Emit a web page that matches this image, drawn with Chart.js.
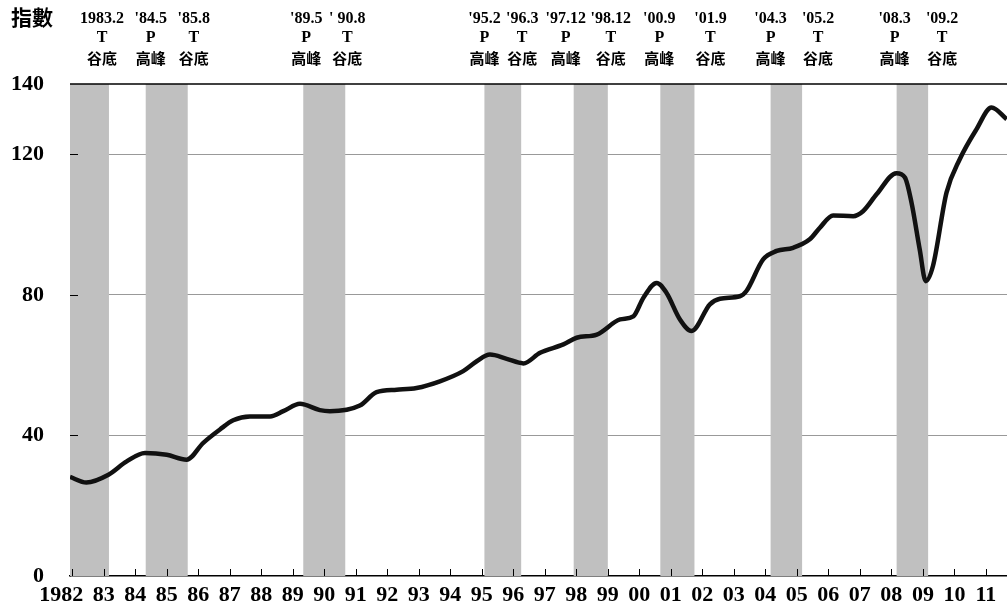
<!DOCTYPE html>
<html>
<head>
<meta charset="utf-8">
<script src="https://cdn.jsdelivr.net/npm/chart.js@4.4.1/dist/chart.umd.min.js"></script>
<style>
    body { margin: 0; background: #fff; }
    #wrap { width: 1007px; height: 616px; position: relative; }
</style>
</head>
<body>
<div id="wrap"><canvas id="plot-01"></canvas></div>
<script>
// composite index (decimal year, index value)
const years = [1981.93, 1982.45, 1983.15, 1983.73, 1984.31, 1985.0, 1985.63, 1986.16, 1986.69, 1987.11,
    1987.64, 1988.28, 1988.70, 1989.23, 1989.86, 1990.18, 1991.13, 1991.66, 1992.30, 1992.93,
    1993.67, 1994.41, 1994.84, 1995.26, 1995.79, 1996.32, 1996.85, 1997.59, 1998.01, 1998.65,
    1999.39, 1999.81, 2000.13, 2000.55, 2000.86, 2001.29, 2001.66, 2002.24, 2002.56, 2003.19,
    2003.40, 2003.93, 2004.36, 2004.88, 2005.41, 2005.73, 2006.15, 2006.79, 2007.10, 2007.53,
    2008.16, 2008.43, 2008.64, 2008.90, 2009.09, 2009.32, 2009.75, 2010.17, 2010.70, 2011.18, 2011.66];
const indexValues = [28.2, 26.6, 28.8, 32.6, 35.0, 34.5, 33.1, 37.9, 41.7, 44.3,
    45.4, 45.4, 46.9, 49.0, 47.2, 46.9, 48.5, 52.3, 53.0, 53.5,
    55.4, 58.3, 61.1, 63.0, 61.8, 60.5, 63.5, 65.9, 67.8, 68.7,
    73.0, 73.9, 79.2, 83.4, 80.6, 73.0, 69.7, 77.3, 78.9, 79.6,
    81.1, 90.1, 92.5, 93.4, 95.8, 99.1, 102.6, 102.4, 103.8, 108.6,
    114.6, 113.4, 106.2, 92.9, 83.9, 88.2, 109.1, 118.6, 127.1, 133.3, 130.0];

// contraction periods: peak (year.month) -> trough (year.month)
const peaks   = ['1980.1', '1984.5', '1989.5', '1995.2', '1997.12', '2000.9', '2004.3', '2008.3'];
const troughs = ['1983.2', '1985.8', '1990.8', '1996.3', '1998.12', '2001.9', '2005.2', '2009.2'];

// annotations along the top
const labelDates = ["1983.2", "'84.5", "'85.8", "'89.5", "' 90.8", "'95.2", "'96.3", "'97.12",
    "'98.12", "'00.9", "'01.9", "'04.3", "'05.2", "'08.3", "'09.2"];
const labelTypes = ['T', 'P', 'T', 'P', 'T', 'P', 'T', 'P', 'T', 'P', 'T', 'P', 'T', 'P', 'T'];
const typeNames = { P: '高峰', T: '谷底' };

const yTicks = [0, 40, 80, 120, 140];
const xYears = [];
for (let y = 1982; y <= 2011; y++) xYears.push(y);

function startOf(s) {
    const [y, m] = s.split('.').map(Number);
    return y + (m - 1) / 12;
}
function endOf(s) {
    const [y, m] = s.split('.').map(Number);
    return y + m / 12;
}

// small horizontal nudges (px) so labels sit like the original
const labelNudge = [-7, 5, 6, 3, 2, 0, 1, -8, 3, -1, 16, 0, 16, -2, 14];

const serif = '"Liberation Serif", "Times New Roman", serif';
const cjk = '"Noto Sans CJK TC", "Noto Sans CJK SC", sans-serif';

const shading = {
    id: 'shading',
    beforeDatasetsDraw(chart) {
        const { ctx, chartArea: a, scales: { x, y } } = chart;
        ctx.save();
        ctx.fillStyle = '#c0c0c0';
        for (let i = 0; i < peaks.length; i++) {
            const x0 = Math.max(a.left, x.getPixelForValue(startOf(peaks[i])));
            const x1 = Math.min(a.right, x.getPixelForValue(endOf(troughs[i])));
            if (x1 > x0) ctx.fillRect(x0, a.top, x1 - x0, a.bottom - a.top);
        }
        // inner tick marks
        ctx.strokeStyle = '#000';
        ctx.lineWidth = 1;
        ctx.beginPath();
        xYears.forEach(v => {
            const px = Math.round(x.getPixelForValue(v)) + 0.5;
            ctx.moveTo(px, a.bottom);
            ctx.lineTo(px, a.bottom - 7);
        });
        [40, 80, 120].forEach(v => {
            const py = Math.round(y.getPixelForValue(v)) + 0.5;
            ctx.moveTo(a.left, py);
            ctx.lineTo(a.left + 8, py);
        });
        ctx.stroke();
        // top border
        ctx.lineWidth = 1.5;
        ctx.beginPath();
        ctx.moveTo(a.left, a.top);
        ctx.lineTo(a.right, a.top);
        ctx.stroke();
        ctx.restore();
    },
    afterDraw(chart) {
        const { ctx, scales: { x } } = chart;
        const bounds = [];
        for (let i = 0; i < peaks.length; i++) {
            bounds.push(startOf(peaks[i]));
            bounds.push(endOf(troughs[i]));
        }
        bounds.shift(); // first peak is off the chart
        ctx.save();
        ctx.fillStyle = '#000';
        ctx.textAlign = 'center';
        ctx.textBaseline = 'middle';
        labelDates.forEach((d, i) => {
            const cx = x.getPixelForValue(bounds[i]) + labelNudge[i];
            ctx.font = 'bold 16px ' + serif;
            ctx.fillText(d, cx, 19);
            ctx.fillText(labelTypes[i], cx, 38);
            ctx.font = 'bold 15px ' + cjk;
            ctx.fillText(typeNames[labelTypes[i]], cx, 58);
        });
        ctx.textAlign = 'left';
        ctx.font = 'bold 21px ' + cjk;
        ctx.fillText('指數', 11, 17);
        ctx.restore();
    }
};

const config = {
    type: 'line',
    data: {
        datasets: [{
            label: '指數',
            data: years.map((v, i) => ({ x: v, y: indexValues[i] })),
            borderColor: '#111',
            borderWidth: 4.5,
            pointRadius: 0,
            cubicInterpolationMode: 'monotone',
            fill: false
        }]
    },
    options: {
        responsive: true,
        maintainAspectRatio: false,
        animation: false,
        layout: { padding: { top: 84, right: 0, left: 0, bottom: 0 } },
        plugins: {
            legend: { display: false },
            tooltip: { enabled: false }
        },
        scales: {
            x: {
                type: 'linear',
                min: 1981.93,
                max: 2011.67,
                afterBuildTicks: (s) => { s.ticks = xYears.map(v => ({ value: v })); },
                afterFit: (s) => { s.height = 40; },
                grid: { display: false, drawTicks: false },
                border: { color: '#000', width: 1.5 },
                ticks: {
                    autoSkip: false,
                    maxRotation: 0,
                    padding: 6,
                    color: '#000',
                    font: { family: serif, size: 22, weight: 'bold' },
                    // first label sits left of its tick in the original
                    callback: (v) => v === 1982 ? '1982\u2007\u2007' : String(v % 100).padStart(2, '0')
                }
            },
            y: {
                min: 0,
                max: 140,
                afterBuildTicks: (s) => { s.ticks = yTicks.map(v => ({ value: v })); },
                afterFit: (s) => { s.width = 70; },
                grid: {
                    drawTicks: false,
                    color: (c) => (c.tick && (c.tick.value === 40 || c.tick.value === 80 || c.tick.value === 120)) ? '#999' : 'rgba(0,0,0,0)',
                    lineWidth: 1
                },
                border: { color: '#444', width: 1 },
                ticks: {
                    padding: 26,
                    color: '#000',
                    font: { family: serif, size: 22, weight: 'bold' }
                }
            }
        }
    },
    plugins: [shading]
};

new Chart(document.getElementById('plot-01').getContext('2d'), config);
</script>
</body>
</html>
